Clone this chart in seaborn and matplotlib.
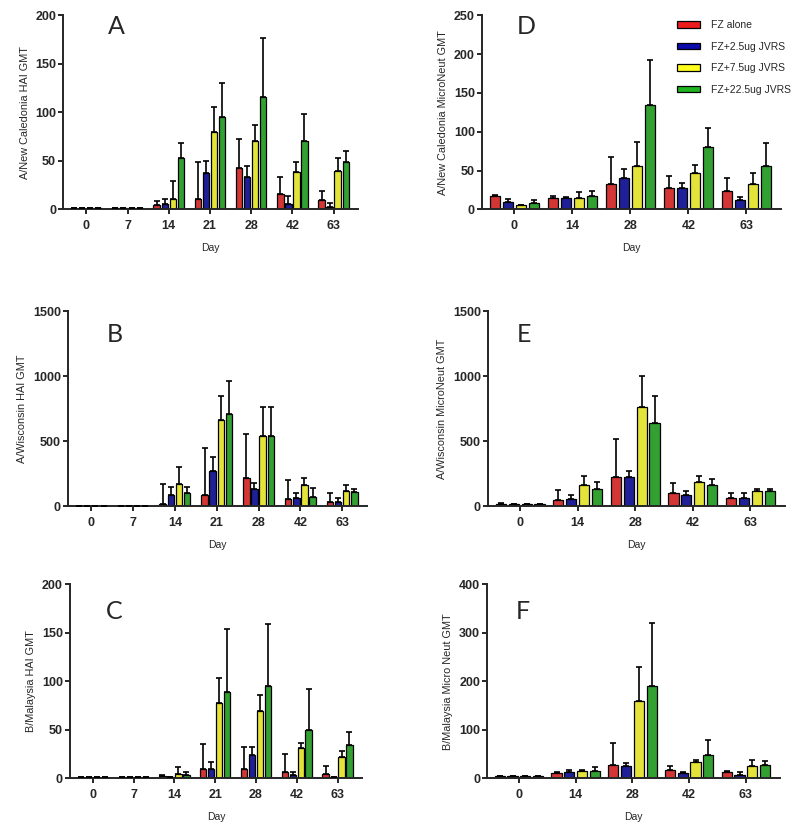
import matplotlib
matplotlib.use('Agg')
import matplotlib.pyplot as plt
from matplotlib.patches import Patch
import seaborn as sns
import numpy as np
import pandas as pd

groups = ['FZ alone', 'FZ+2.5ug JVRS', 'FZ+7.5ug JVRS', 'FZ+22.5ug JVRS']
colors = ['#ee1c1c', '#0b0bab', '#ffff1e', '#1fb41f']

days_hai = ['0', '7', '14', '21', '28', '42', '63']
days_mn = ['0', '14', '28', '42', '63']

# one row per group; *_top = top of the error bar
a_gmt = [[1, 1, 4, 11, 43, 16, 10],
         [1, 1, 5, 37, 33, 5, 2],
         [1, 1, 11, 80, 70, 39, 40],
         [1, 1, 53, 95, 116, 70, 49]]
a_top = [[1, 1, 9, 49, 72, 33, 19],
         [1, 1, 11, 50, 45, 14, 7],
         [1, 1, 29, 105, 87, 49, 53],
         [1, 1, 68, 130, 177, 98, 60]]

b_gmt = [[2, 5, 20, 85, 220, 55, 30],
         [2, 5, 85, 270, 130, 65, 35],
         [2, 5, 170, 660, 540, 165, 120],
         [2, 5, 105, 710, 540, 70, 110]]
b_top = [[2, 5, 170, 450, 555, 200, 105],
         [2, 5, 150, 380, 175, 100, 60],
         [2, 5, 305, 850, 765, 215, 160],
         [2, 5, 150, 960, 765, 140, 130]]

c_gmt = [[1, 1, 2, 9, 9, 6, 4],
         [1, 1, 1, 9, 24, 3, 1],
         [1, 1, 4, 77, 69, 31, 22],
         [1, 1, 3, 89, 95, 50, 34]]
c_top = [[1, 1, 3, 35, 32, 25, 13],
         [1, 1, 1, 17, 32, 6, 1],
         [1, 1, 11, 103, 86, 36, 28],
         [1, 1, 6, 154, 159, 92, 48]]

d_gmt = [[17, 14, 33, 28, 24],
         [10, 14, 40, 28, 12],
         [5, 14, 56, 47, 33],
         [8, 17, 134, 80, 56]]
d_top = [[18, 17, 68, 43, 40],
         [13, 16, 52, 34, 16],
         [5, 22, 87, 57, 47],
         [12, 24, 192, 105, 86]]

e_gmt = [[20, 50, 225, 100, 60],
         [15, 57, 225, 85, 65],
         [15, 160, 760, 190, 115],
         [15, 135, 640, 160, 115]]
e_top = [[22, 125, 515, 180, 100],
         [17, 90, 270, 115, 100],
         [17, 230, 1000, 230, 135],
         [17, 190, 845, 210, 135]]

f_gmt = [[4, 10, 28, 16, 13],
         [4, 13, 24, 10, 7],
         [4, 14, 160, 33, 24],
         [4, 14, 190, 47, 28]]
f_top = [[5, 12, 73, 26, 14],
         [5, 16, 31, 12, 12],
         [5, 16, 229, 38, 38],
         [5, 22, 320, 79, 36]]

sns.set_style('ticks')
plt.rcParams['font.family'] = ['Liberation Sans', 'DejaVu Sans']


def panel(ax, days, gmt, top, ymax, step, ylabel, letter, lpos, width):
    df = pd.DataFrame({'Day': np.tile(days, len(groups)),
                       'GMT': np.ravel(gmt),
                       'Group': np.repeat(groups, len(days))})
    sns.barplot(data=df, x='Day', y='GMT', hue='Group', order=days,
                hue_order=groups, palette=colors, errorbar=None,
                width=width, gap=0.2, edgecolor='black', linewidth=0.9,
                legend=False, ax=ax)
    for bars, g, t in zip(ax.containers, gmt, top):
        xs = [b.get_x() + b.get_width() / 2 for b in bars]
        up = np.array(t) - np.array(g)
        ax.errorbar(xs, g, yerr=[np.zeros(len(g)), up], fmt='none',
                    ecolor='black', elinewidth=1.2, capsize=2,
                    capthick=1.2, zorder=3)
    ax.set_ylim(0, ymax)
    ax.set_yticks(np.arange(0, ymax + 1, step))
    n = len(days)
    ax.set_xlim(-0.56, n - 1 + 0.6)
    sns.despine(ax=ax)
    for s in ['left', 'bottom']:
        ax.spines[s].set_linewidth(1.4)
    ax.tick_params(width=1.4, length=3.6, labelsize=9)
    ax.tick_params(axis='x', pad=4)
    ax.tick_params(axis='y', pad=1.5)
    for lab in ax.get_xticklabels() + ax.get_yticklabels():
        lab.set_fontweight('bold')
    ax.set_xlabel('Day', fontsize=7.5, labelpad=8)
    ax.set_ylabel(ylabel, fontsize=7.8, labelpad=4)
    ax.text(lpos[0], lpos[1], letter, transform=ax.transAxes,
            fontsize=18, family='Lato', va='top', ha='left')


fig = plt.figure(figsize=(8, 8.34), dpi=100)
ax_a = fig.add_axes([0.079, 0.749, 0.369, 0.2326])
ax_d = fig.add_axes([0.6025, 0.749, 0.374, 0.2326])
ax_b = fig.add_axes([0.085, 0.393, 0.374, 0.2338])
ax_e = fig.add_axes([0.61, 0.393, 0.371, 0.2338])
ax_c = fig.add_axes([0.0875, 0.067, 0.365, 0.2326])
ax_f = fig.add_axes([0.609, 0.067, 0.366, 0.2326])

panel(ax_a, days_hai, a_gmt, a_top, 200, 50,
      'A/New Caledonia HAI GMT', 'A', (0.15, 1.0), 0.78)
panel(ax_d, days_mn, d_gmt, d_top, 250, 50,
      'A/New Caledonia MicroNeut GMT', 'D', (0.117, 1.0), 0.9)
panel(ax_b, days_hai, b_gmt, b_top, 1500, 500,
      'A/Wisconsin HAI GMT', 'B', (0.13, 0.94), 0.78)
panel(ax_e, days_mn, e_gmt, e_top, 1500, 500,
      'A/Wisconsin MicroNeut GMT', 'E', (0.098, 0.94), 0.9)
panel(ax_c, days_hai, c_gmt, c_top, 200, 50,
      'B/Malaysia HAI GMT', 'C', (0.123, 0.92), 0.78)
panel(ax_f, days_mn, f_gmt, f_top, 400, 100,
      'B/Malaysia Micro Neut GMT', 'F', (0.099, 0.92), 0.9)

handles = [Patch(facecolor=c, edgecolor='black', linewidth=0.9) for c in colors]
ax_d.legend(handles, groups, loc='upper left', bbox_to_anchor=(0.652, 0.975),
            frameon=False, fontsize=7.5, handlelength=2.2, handleheight=0.55,
            handletextpad=1.1, labelspacing=1.1, borderpad=0, borderaxespad=0)

fig.savefig('out.png', dpi=100)
